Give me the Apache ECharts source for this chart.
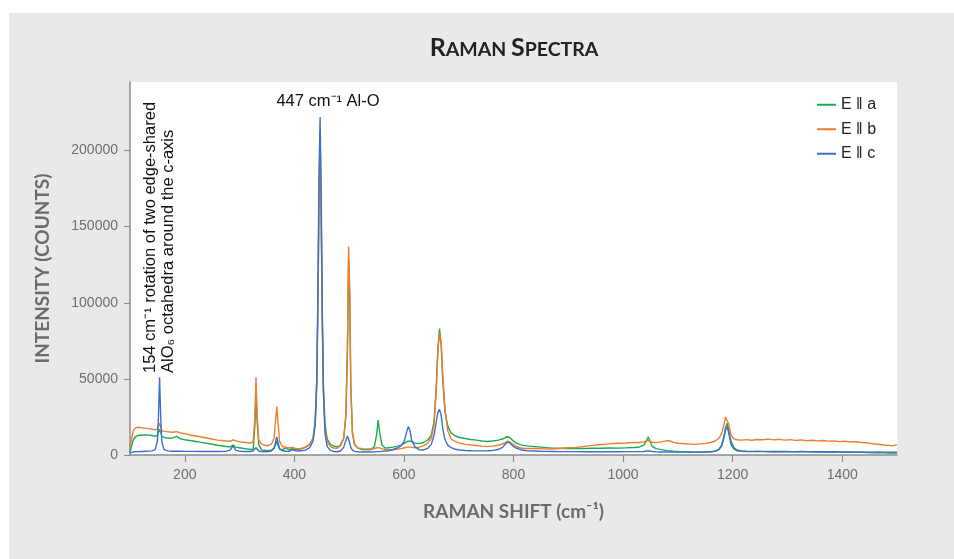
<!DOCTYPE html>
<html>
<head>
<meta charset="utf-8">
<script src="https://cdn.jsdelivr.net/npm/echarts@6/dist/echarts.min.js"></script>
<style>
html,body{margin:0;padding:0;background:#fff;}
#wrap{position:relative;width:954px;height:559px;background:#fff;overflow:hidden;}
#panel{position:absolute;left:9px;top:13px;width:945px;height:546px;background:#e9e9e9;}
#chart{position:absolute;left:0;top:0;width:954px;height:559px;}
</style>
</head>
<body>
<div id="wrap"><div id="panel"></div><div id="chart"></div></div>
<script>
// Raman shift (cm-1) sample positions
const ramanShift = [
  100,103,106,110,115,120,130,140,146,150,152,154,156,158,162,170,178,185,192,200,215,230,245,260,275,283,288,293,300,310,320,325,
  328,330,332,335,340,350,358,363,366,368,
  370,373,378,384,390,396,402,410,420,428,
  434,438,441,443,445,447,449,451,453,456,
  460,466,472,478,484,490,494,497,499,501,
  503,506,510,516,524,532,540,546,550,553,
  556,560,566,572,580,588,594,600,605,608,
  611,614,620,628,636,644,650,655,659,662,
  665,668,671,675,680,686,694,702,712,722,
  732,742,752,762,772,780,785,789,793,798,
  805,815,825,
  840,855,870,885,900,915,930,945,960,975,
  990,1005,1020,1030,1038,1043,1046,1049,1053,1060,
  1070,1080,1086,1092,1100,1110,1120,1130,1140,1150,
  1160,1168,1175,1180,1184,1187,1190,1193,1197,1202,
  1208,1216,1225,1235,1245,1255,1265,1275,1285,1295,
  1305,1315,1325,1335,1345,1355,1365,1375,1385,1395,
  1405,1415,1425,1435,1445,1455,1465,1475,1485,1492,
  1500
];
// E || a (green)
const intensityA = [
  2000,6000,10000,12000,12800,13000,13200,12800,12200,13000,15000,17000,15000,12500,11600,11000,11200,12200,10600,10000,9200,8300,7400,6400,5600,5400,6500,5200,4800,4200,3600,4000,
  20000,43000,22000,7000,3400,2800,3200,4500,7000,9000,
  6500,4000,3400,4700,3300,4200,3600,3800,5000,7000,
  11000,22000,50000,100000,170000,212000,160000,90000,45000,20000,
  10500,7000,5800,5400,6500,11000,25000,70000,128000,105000,
  45000,15000,7000,4500,3600,3400,3600,5500,13000,23000,
  14000,6500,4500,4800,5200,5800,6500,7500,8800,9500,
  9200,8600,7800,7600,8200,10000,13000,22000,45000,70000,
  83000,72000,48000,28000,19000,14500,12500,11500,10800,10200,
  9800,9200,8900,9200,9800,10500,11500,12000,11500,9800,
  7800,6500,6000,
  5500,5000,4500,4400,4300,4400,4300,4500,4400,4600,
  4500,4700,4900,5300,6500,9500,12000,9000,5800,4200,
  3500,2900,2700,2500,2300,2100,2000,1900,1900,1900,
  2100,2600,3800,6500,12000,18000,20800,16000,9000,5000,
  3300,2700,2500,2400,2500,2400,2400,2300,2400,2300,
  2200,2200,2300,2200,2100,2100,2000,2100,2000,1900,
  1900,1800,1800,1700,1600,1500,1500,1400,1300,1200,
  1200
];
// E || b (orange)
const intensityB = [
  5500,11000,16000,17800,18200,18000,17500,17000,16600,17000,19000,20800,18500,16200,15500,15200,14900,15400,14500,14000,12800,11800,10800,9800,9200,9000,10000,9300,8800,8200,7800,9000,
  25000,51000,26000,10000,7200,6000,7000,11000,24000,31800,
  22000,9000,5600,5200,4600,5000,4300,4000,5200,7000,
  10500,20000,45000,95000,160000,200000,150000,85000,42000,17000,
  8500,5500,4600,4400,6000,10500,26000,75000,137000,110000,
  46000,14000,6500,4600,4200,4000,3900,4100,4800,5500,
  4700,4000,3600,3500,3400,3800,4200,4600,5200,5600,
  5200,4800,4800,5200,6200,8000,11000,20000,42000,68000,
  80000,74000,52000,30000,16000,10500,8800,7800,7000,6600,
  6200,5800,5500,5800,6400,7200,8200,9000,8600,7400,
  5600,4400,4300,
  4300,4000,3900,4300,4800,5000,5700,6300,6900,7300,
  7700,7900,8300,8200,8600,9500,10000,9200,8400,8100,
  8600,9400,9200,8300,7700,7500,7200,7000,7300,7600,
  8200,9200,11000,14000,20000,25000,26300,20000,13000,10800,
  10000,9800,10100,9700,10200,10000,10400,9900,10300,9800,
  10100,9600,9900,9400,9700,9300,9500,9100,9300,8800,
  9000,8600,8700,8200,8000,7400,7100,6600,6300,6000,
  6800
];
// E || c (blue)
const intensityC = [
  1200,1800,2000,2100,2200,2300,2500,2700,3500,9000,26000,51000,26000,9000,3500,2700,2500,2500,2500,2400,2400,2300,2300,2300,2400,3200,6000,3200,2400,2300,2300,2800,
  3800,4800,3800,2600,2200,2100,2600,4500,9000,11800,
  8500,4000,2800,2500,2400,3600,2700,2600,3200,4800,
  9000,20000,50000,110000,185000,222000,170000,95000,42000,14000,
  5500,3000,2200,2100,2600,5000,9500,12500,11500,8000,
  5000,3200,2400,2100,2000,2000,2000,2100,2200,2300,
  2200,2400,2600,2800,3600,4600,5800,8500,15000,18800,
  16000,10000,5500,3400,3300,4500,7000,13000,22000,28000,
  30000,26000,17000,10000,6500,4800,3800,3300,3000,2800,
  2700,2700,2800,3000,3600,5000,7000,8500,8000,6200,
  4500,3300,2800,
  2600,2400,2300,2200,2200,2200,2100,2200,2100,2200,
  2100,2200,2200,2200,2300,2600,2900,2600,2300,2100,
  2000,2000,2000,1900,1900,1900,2000,1900,2000,2000,
  2100,2400,3500,6000,11000,16500,18600,14000,7000,4000,
  2800,2400,2300,2200,2200,2200,2100,2200,2100,2200,
  2100,2100,2200,2100,2100,2000,2100,2000,2100,2000,
  2000,2000,1900,2000,1900,1900,2000,1900,1900,1800,
  1800
];
const seriesNames = ['E \u2016 a', 'E \u2016 b', 'E \u2016 c'];
const seriesColors = ['#1faa4c', '#f07c2d', '#3a6fd2'];
const xTicks = [200, 400, 600, 800, 1000, 1200, 1400];
const yTicks = [0, 50000, 100000, 150000, 200000];

const allY = [intensityA, intensityB, intensityC];
const chart = echarts.init(document.getElementById('chart'), null, {renderer: 'canvas'});
const axisGray = '#8c8c8c';
const labelFont = 'Liberation Sans, Arial, sans-serif';
const nameFont = 'Lato, sans-serif';
const plain = v => String(v);

const option = {
  backgroundColor: 'transparent',
  animation: false,
  grid: {left: 130, right: 57, top: 82, bottom: 104, show: true, backgroundColor: '#ffffff', borderWidth: 0},
  legend: {
    orient: 'vertical', left: 812, top: 91, itemWidth: 19, itemHeight: 2, itemGap: 7,
    icon: 'rect',
    data: seriesNames,
    textStyle: {fontSize: 16, color: '#222', fontFamily: labelFont, lineHeight: 17.5}
  },
  xAxis: {
    type: 'value', min: 100, max: 1500,
    axisLine: {show: true, lineStyle: {color: axisGray, width: 1.5}},
    axisTick: {show: true, length: 7, customValues: xTicks, lineStyle: {color: axisGray, width: 1.2}},
    axisLabel: {customValues: xTicks, formatter: plain, color: '#6e6e6e', fontSize: 14, margin: 13, fontFamily: labelFont},
    splitLine: {show: false},
    name: 'RAMAN SHIFT (cm\u207B\u00B9)', nameLocation: 'middle', nameGap: 47,
    nameTextStyle: {fontSize: 19, fontWeight: 'bold', color: '#6b6b6b', fontFamily: nameFont}
  },
  yAxis: {
    type: 'value', min: 0, max: 245000,
    axisLine: {show: true, lineStyle: {color: axisGray, width: 1.5}},
    axisTick: {show: true, length: 6, customValues: yTicks, lineStyle: {color: axisGray, width: 1.2}},
    axisLabel: {customValues: yTicks, formatter: plain, color: '#6e6e6e', fontSize: 14, margin: 12, fontFamily: labelFont},
    splitLine: {show: false},
    name: 'INTENSITY (COUNTS)', nameLocation: 'middle', nameGap: 78,
    nameTextStyle: {fontSize: 19, fontWeight: 'bold', color: '#6b6b6b', fontFamily: nameFont}
  },
  series: seriesNames.map((n, k) => ({
    name: n, type: 'line', symbol: 'none', smooth: false,
    lineStyle: {width: 1.4, color: seriesColors[k]},
    itemStyle: {color: seriesColors[k]},
    data: ramanShift.map((x, i) => [x, allY[k][i]])
  })),
  graphic: [
    {
      type: 'text', x: 514, y: 47,
      style: {
        text: '{c|R}{s|AMAN }{c|S}{s|PECTRA}',
        align: 'center', verticalAlign: 'middle',
        rich: {
          c: {fontSize: 25, fontWeight: 'bold', fontFamily: nameFont, fill: '#222', verticalAlign: 'bottom', lineHeight: 26},
          s: {fontSize: 19.5, fontWeight: 'bold', fontFamily: nameFont, fill: '#222', verticalAlign: 'bottom', lineHeight: 26}
        }
      }
    },
    {
      type: 'text', x: 328, y: 101,
      style: {text: '447 cm\u207B\u00B9 Al-O', fontSize: 16.5, fontFamily: labelFont, fill: '#111', align: 'center', verticalAlign: 'middle'}
    },
    {
      type: 'text', x: 150, y: 373, rotation: Math.PI / 2,
      style: {text: '154 cm\u207B\u00B9 rotation of two edge-shared', fontSize: 16.5, fontFamily: labelFont, fill: '#111', align: 'left', verticalAlign: 'middle'}
    },
    {
      type: 'text', x: 168, y: 373, rotation: Math.PI / 2,
      style: {text: 'AlO\u2086 octahedra around the c-axis', fontSize: 16.5, fontFamily: labelFont, fill: '#111', align: 'left', verticalAlign: 'middle'}
    }
  ]
};
chart.setOption(option);
</script>
</body>
</html>
